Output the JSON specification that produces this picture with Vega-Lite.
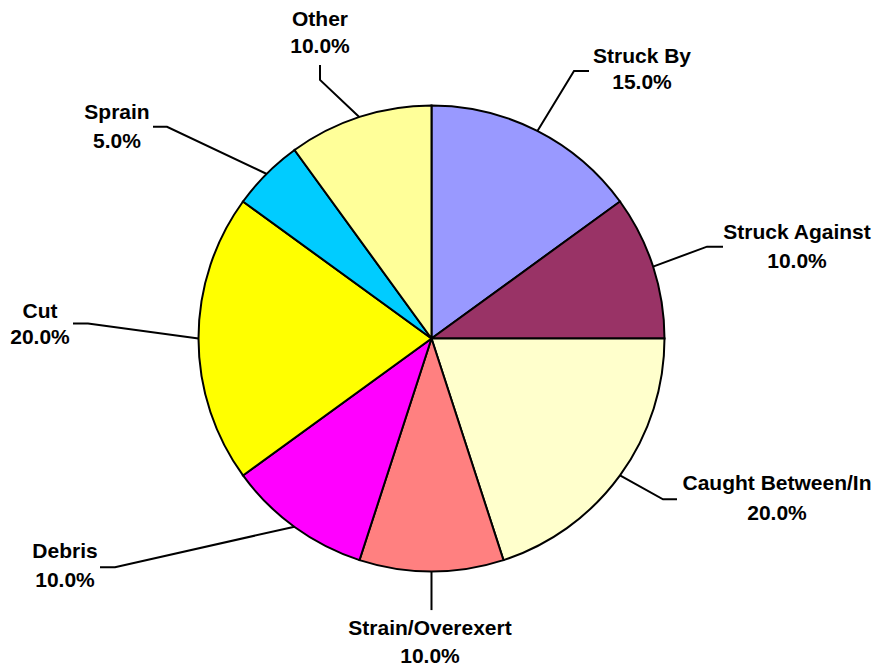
{
  "$schema": "https://vega.github.io/schema/vega-lite/v6.json",
  "width": 879,
  "height": 668,
  "autosize": {"type": "fit", "contains": "padding"},
  "padding": 0,
  "background": "white",
  "config": {"view": {"stroke": null}},
  "datasets": {
    "slices": [
      {"name": "Struck By", "value": 0.15, "order": 1},
      {"name": "Struck Against", "value": 0.10, "order": 2},
      {"name": "Caught Between/In", "value": 0.20, "order": 3},
      {"name": "Strain/Overexert", "value": 0.10, "order": 4},
      {"name": "Debris", "value": 0.10, "order": 5},
      {"name": "Cut", "value": 0.20, "order": 6},
      {"name": "Sprain", "value": 0.05, "order": 7},
      {"name": "Other", "value": 0.10, "order": 8}
    ],
    "labels": [
      {"name": "Struck By", "pct": 0.15, "lx": 90.34, "y1": 121.03, "y2": 109.87},
      {"name": "Struck Against", "pct": 0.10, "lx": 156.87, "y1": 45.49, "y2": 33.05},
      {"name": "Caught Between/In", "pct": 0.20, "lx": 148.28, "y1": -62.66, "y2": -75.54},
      {"name": "Strain/Overexert", "pct": 0.10, "lx": -0.64, "y1": -124.89, "y2": -136.91},
      {"name": "Debris", "pct": 0.10, "lx": -157.30, "y1": -91.85, "y2": -104.29},
      {"name": "Cut", "pct": 0.20, "lx": -168.03, "y1": 11.59, "y2": 0.0},
      {"name": "Sprain", "pct": 0.05, "lx": -134.98, "y1": 97.0, "y2": 84.55},
      {"name": "Other", "pct": 0.10, "lx": -47.85, "y1": 136.91, "y2": 125.32}
    ],
    "leaders": [
      {"lbl": "Struck By", "seq": 1, "x": 45.4, "y": 89.1},
      {"lbl": "Struck By", "seq": 2, "x": 61.16, "y": 115.02},
      {"lbl": "Struck By", "seq": 3, "x": 67.6, "y": 115.02},
      {"lbl": "Struck Against", "seq": 1, "x": 95.1, "y": 30.9},
      {"lbl": "Struck Against", "seq": 2, "x": 118.24, "y": 39.48},
      {"lbl": "Struck Against", "seq": 3, "x": 125.11, "y": 39.48},
      {"lbl": "Caught Between/In", "seq": 1, "x": 80.9, "y": -58.8},
      {"lbl": "Caught Between/In", "seq": 2, "x": 99.36, "y": -69.1},
      {"lbl": "Caught Between/In", "seq": 3, "x": 105.36, "y": -69.1},
      {"lbl": "Strain/Overexert", "seq": 1, "x": 0, "y": -100},
      {"lbl": "Strain/Overexert", "seq": 2, "x": 0, "y": -116.74},
      {"lbl": "Debris", "seq": 1, "x": -58.8, "y": -80.9},
      {"lbl": "Debris", "seq": 2, "x": -135.84, "y": -98.28},
      {"lbl": "Debris", "seq": 3, "x": -142.27, "y": -98.28},
      {"lbl": "Cut", "seq": 1, "x": -100, "y": 0},
      {"lbl": "Cut", "seq": 2, "x": -147.42, "y": 6.44},
      {"lbl": "Cut", "seq": 3, "x": -153.86, "y": 6.44},
      {"lbl": "Sprain", "seq": 1, "x": -70.7, "y": 70.7},
      {"lbl": "Sprain", "seq": 2, "x": -113.52, "y": 90.99},
      {"lbl": "Sprain", "seq": 3, "x": -119.53, "y": 90.99},
      {"lbl": "Other", "seq": 1, "x": -30.9, "y": 95.1},
      {"lbl": "Other", "seq": 2, "x": -47.85, "y": 111.16},
      {"lbl": "Other", "seq": 3, "x": -47.85, "y": 117.6}
    ]
  },
  "layer": [
    {
      "data": {"name": "slices"},
      "mark": {"type": "arc", "outerRadius": 233, "stroke": "black", "strokeWidth": 2},
      "encoding": {
        "x": {"datum": 0, "type": "quantitative", "scale": {"domain": [-185.19, 192.06], "nice": false, "zero": false}, "axis": null},
        "y": {"datum": 0, "type": "quantitative", "scale": {"domain": [-141.2, 145.49], "nice": false, "zero": false}, "axis": null},
        "theta": {"field": "value", "type": "quantitative", "stack": true},
        "order": {"field": "order", "type": "quantitative", "sort": "ascending"},
        "color": {
          "field": "name", "type": "nominal", "legend": null,
          "scale": {
            "domain": ["Struck By", "Struck Against", "Caught Between/In", "Strain/Overexert", "Debris", "Cut", "Sprain", "Other"],
            "range": ["#9999FF", "#993366", "#FFFFCC", "#FF8080", "#FF00FF", "#FFFF00", "#00CCFF", "#FFFF99"]
          }
        }
      }
    },
    {
      "data": {"name": "leaders"},
      "mark": {"type": "line", "stroke": "black", "strokeWidth": 2},
      "encoding": {
        "x": {"field": "x", "type": "quantitative"},
        "y": {"field": "y", "type": "quantitative"},
        "detail": {"field": "lbl"},
        "order": {"field": "seq", "type": "quantitative"}
      }
    },
    {
      "data": {"name": "labels"},
      "mark": {"type": "text", "font": "Liberation Sans", "fontWeight": "bold", "fontSize": 21, "baseline": "middle", "align": "center", "color": "black"},
      "encoding": {
        "x": {"field": "lx", "type": "quantitative"},
        "y": {"field": "y1", "type": "quantitative"},
        "text": {"field": "name"}
      }
    },
    {
      "data": {"name": "labels"},
      "mark": {"type": "text", "font": "Liberation Sans", "fontWeight": "bold", "fontSize": 21, "baseline": "middle", "align": "center", "color": "black"},
      "encoding": {
        "x": {"field": "lx", "type": "quantitative"},
        "y": {"field": "y2", "type": "quantitative"},
        "text": {"field": "pct", "format": ".1%"}
      }
    }
  ]
}
